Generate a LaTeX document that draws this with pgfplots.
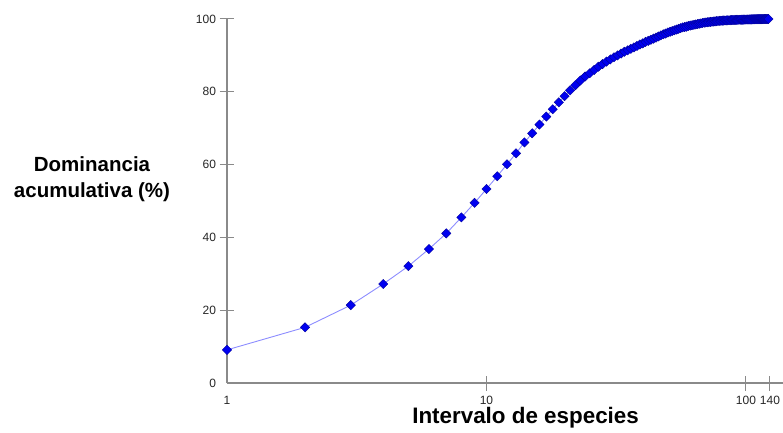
\documentclass[border=0pt]{standalone}
\usepackage{fontspec}
\setmainfont{Liberation Sans}
\usepackage{pgfplots}
\pgfplotsset{compat=1.18}
\definecolor{axgray}{HTML}{8A8A8A}
\definecolor{lineblue}{HTML}{8C8CFF}
\definecolor{markblue}{HTML}{0000F0}
\definecolor{markedge}{HTML}{00009A}
\begin{document}
\begin{tikzpicture}
\useasboundingbox (0,0) rectangle (783pt,432pt);
\begin{axis}[
  at={(227pt,49pt)}, anchor=south west,
  scale only axis, width=556pt, height=364pt,
  xmode=log, log basis x=10,
  xmin=1, xmax=138.9, ymin=0, ymax=100,
  axis lines=left, axis line style={axgray, line width=1.1pt, -},
  every tick/.style={axgray, line width=1pt},
  tick align=center, major tick length=15pt,
  xtick={10,100,123.7}, xticklabels={10,100,140},
  extra x ticks={1}, extra x tick labels={1},
  extra x tick style={major tick style={draw=none}},
  ytick={20,40,60,80,100}, yticklabels={20,40,60,80,100},
  extra y ticks={0}, extra y tick labels={0},
  extra y tick style={major tick style={draw=none}},
  minor tick num=0, log ticks with fixed point,
  tick label style={font=\fontsize{12}{14}\selectfont, text=black!85},
  xticklabel style={yshift=-2pt},
  /pgf/number format/assume math mode=true,
  clip=false,
  xlabel={Intervalo de especies},
  xlabel style={font=\fontsize{22.4}{26}\selectfont\bfseries, at={(axis description cs:0.537,-0.1126)}, anchor=base},
  ylabel={Dominancia\\acumulativa (\%)},
  ylabel style={font=\fontsize{20.5}{26}\selectfont\bfseries, rotate=-90, align=center, at={(axis description cs:-0.2428,0.560)}, anchor=center},
]
\addplot[color=lineblue, line width=0.9pt, mark=square*, mark size=3.3pt,
  mark options={rotate=45, fill=markblue, draw=markedge, line width=0.4pt}]
coordinates {
(1,9.1) (2,15.3) (3,21.4) (4,27.2) (5,32.1) (6,36.8) (7,41.1) (8,45.5) (9,49.5) (10,53.3)
(11,56.8) (12,60.1) (13,63.1) (14,66.1) (15,68.6) (16,71.0) (17,73.2) (18,75.2) (19,77.1) (20,78.8)
(21,80.4) (22,81.8) (23,83.1) (24,84.2) (25,85.1) (26,86.0) (27,86.9) (28,87.6) (29,88.3) (30,88.9)
(31,89.5) (32,90.0) (33,90.5) (34,91.0) (35,91.4) (36,91.8) (37,92.2) (38,92.6) (39,93.0) (40,93.3)
(41,93.7) (42,94.0) (43,94.3) (44,94.6) (45,94.9) (46,95.2) (47,95.5) (48,95.8) (49,96.0) (50,96.3)
(51,96.5) (52,96.7) (53,96.9) (54,97.1) (55,97.3) (56,97.5) (57,97.7) (58,97.8) (59,97.9) (60,98.1)
(61,98.2) (62,98.3) (63,98.4) (64,98.5) (65,98.6) (66,98.7) (67,98.8) (68,98.9) (69,99.0) (70,99.05)
(71,99.1) (72,99.15) (73,99.2) (74,99.25) (75,99.3) (76,99.35) (77,99.4) (78,99.45) (79,99.5) (80,99.52)
(81,99.55) (82,99.57) (83,99.6) (84,99.62) (85,99.64) (86,99.66) (87,99.68) (88,99.7) (89,99.72) (90,99.74)
(91,99.75) (92,99.77) (93,99.78) (94,99.79) (95,99.8) (96,99.81) (97,99.82) (98,99.83) (99,99.84) (100,99.85)
(101,99.86) (102,99.87) (103,99.88) (104,99.89) (105,99.9) (106,99.91) (107,99.92) (108,99.93) (109,99.94) (110,99.95)
(111,99.955) (112,99.96) (113,99.965) (114,99.97) (115,99.975) (116,99.98) (117,99.985) (118,99.99) (119,99.993) (120,99.996)
(121,99.998) (122,100)
};
\end{axis}
\end{tikzpicture}
\end{document}
